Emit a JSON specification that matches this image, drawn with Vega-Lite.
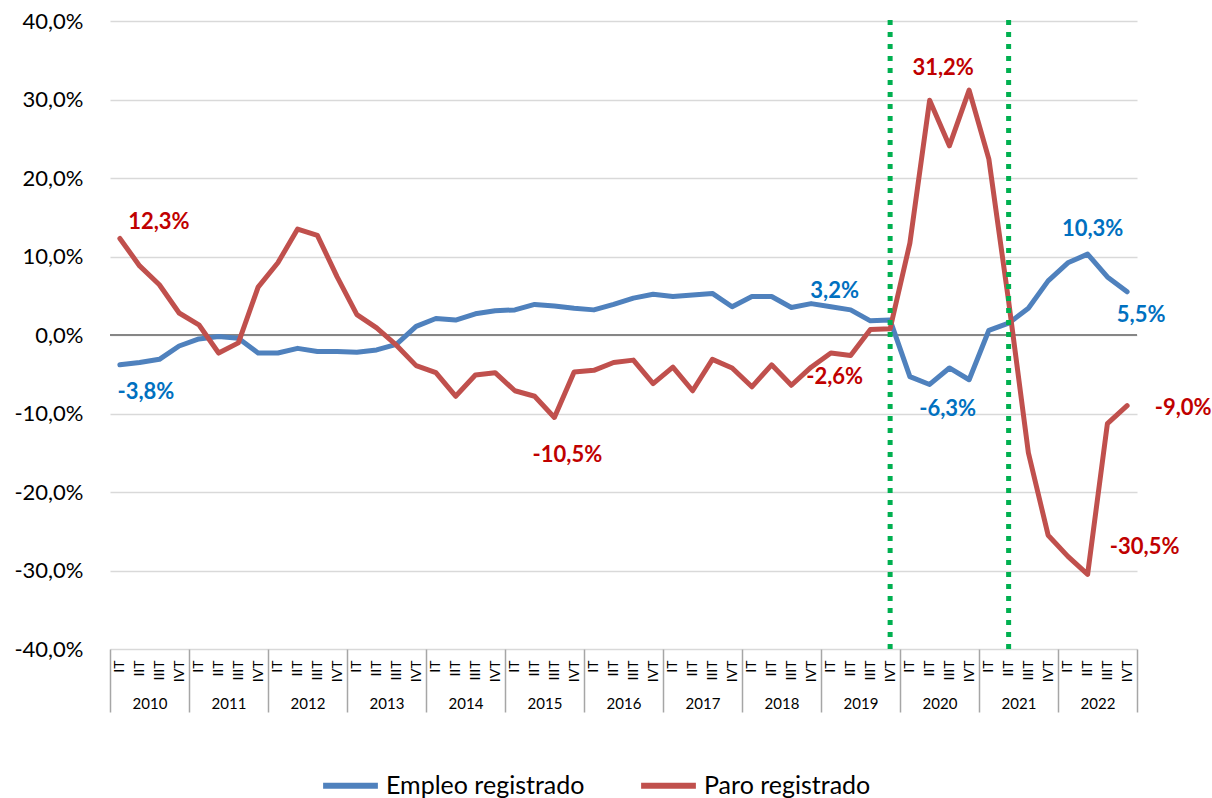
{
  "$schema": "https://vega.github.io/schema/vega-lite/v6.json",
  "width": 1027,
  "height": 628,
  "autosize": {"type": "none"},
  "padding": {"left": 110, "top": 21, "right": 75, "bottom": 149},
  "background": "white",
  "config": {
    "view": {"stroke": null},
    "font": "Lato",
    "axis": {"labelFont": "Lato", "labelColor": "#000000", "titleFont": "Lato"},
    "legend": {"labelFont": "Lato"}
  },
  "datasets": {
    "series": [
      {"periodo": "2010-1", "serie": "Empleo registrado", "valor": -3.8},
      {"periodo": "2010-2", "serie": "Empleo registrado", "valor": -3.5},
      {"periodo": "2010-3", "serie": "Empleo registrado", "valor": -3.1},
      {"periodo": "2010-4", "serie": "Empleo registrado", "valor": -1.4},
      {"periodo": "2011-1", "serie": "Empleo registrado", "valor": -0.5},
      {"periodo": "2011-2", "serie": "Empleo registrado", "valor": -0.2},
      {"periodo": "2011-3", "serie": "Empleo registrado", "valor": -0.4},
      {"periodo": "2011-4", "serie": "Empleo registrado", "valor": -2.3},
      {"periodo": "2012-1", "serie": "Empleo registrado", "valor": -2.3},
      {"periodo": "2012-2", "serie": "Empleo registrado", "valor": -1.7},
      {"periodo": "2012-3", "serie": "Empleo registrado", "valor": -2.1},
      {"periodo": "2012-4", "serie": "Empleo registrado", "valor": -2.1},
      {"periodo": "2013-1", "serie": "Empleo registrado", "valor": -2.2},
      {"periodo": "2013-2", "serie": "Empleo registrado", "valor": -1.9},
      {"periodo": "2013-3", "serie": "Empleo registrado", "valor": -1.2},
      {"periodo": "2013-4", "serie": "Empleo registrado", "valor": 1.1},
      {"periodo": "2014-1", "serie": "Empleo registrado", "valor": 2.1},
      {"periodo": "2014-2", "serie": "Empleo registrado", "valor": 1.9},
      {"periodo": "2014-3", "serie": "Empleo registrado", "valor": 2.7},
      {"periodo": "2014-4", "serie": "Empleo registrado", "valor": 3.1},
      {"periodo": "2015-1", "serie": "Empleo registrado", "valor": 3.2},
      {"periodo": "2015-2", "serie": "Empleo registrado", "valor": 3.9},
      {"periodo": "2015-3", "serie": "Empleo registrado", "valor": 3.7},
      {"periodo": "2015-4", "serie": "Empleo registrado", "valor": 3.4},
      {"periodo": "2016-1", "serie": "Empleo registrado", "valor": 3.2},
      {"periodo": "2016-2", "serie": "Empleo registrado", "valor": 3.9},
      {"periodo": "2016-3", "serie": "Empleo registrado", "valor": 4.7},
      {"periodo": "2016-4", "serie": "Empleo registrado", "valor": 5.2},
      {"periodo": "2017-1", "serie": "Empleo registrado", "valor": 4.9},
      {"periodo": "2017-2", "serie": "Empleo registrado", "valor": 5.1},
      {"periodo": "2017-3", "serie": "Empleo registrado", "valor": 5.3},
      {"periodo": "2017-4", "serie": "Empleo registrado", "valor": 3.6},
      {"periodo": "2018-1", "serie": "Empleo registrado", "valor": 4.9},
      {"periodo": "2018-2", "serie": "Empleo registrado", "valor": 4.9},
      {"periodo": "2018-3", "serie": "Empleo registrado", "valor": 3.5},
      {"periodo": "2018-4", "serie": "Empleo registrado", "valor": 4.0},
      {"periodo": "2019-1", "serie": "Empleo registrado", "valor": 3.6},
      {"periodo": "2019-2", "serie": "Empleo registrado", "valor": 3.2},
      {"periodo": "2019-3", "serie": "Empleo registrado", "valor": 1.8},
      {"periodo": "2019-4", "serie": "Empleo registrado", "valor": 1.9},
      {"periodo": "2020-1", "serie": "Empleo registrado", "valor": -5.3},
      {"periodo": "2020-2", "serie": "Empleo registrado", "valor": -6.3},
      {"periodo": "2020-3", "serie": "Empleo registrado", "valor": -4.2},
      {"periodo": "2020-4", "serie": "Empleo registrado", "valor": -5.7},
      {"periodo": "2021-1", "serie": "Empleo registrado", "valor": 0.6},
      {"periodo": "2021-2", "serie": "Empleo registrado", "valor": 1.5},
      {"periodo": "2021-3", "serie": "Empleo registrado", "valor": 3.4},
      {"periodo": "2021-4", "serie": "Empleo registrado", "valor": 6.9},
      {"periodo": "2022-1", "serie": "Empleo registrado", "valor": 9.2},
      {"periodo": "2022-2", "serie": "Empleo registrado", "valor": 10.3},
      {"periodo": "2022-3", "serie": "Empleo registrado", "valor": 7.4},
      {"periodo": "2022-4", "serie": "Empleo registrado", "valor": 5.5},
      {"periodo": "2010-1", "serie": "Paro registrado", "valor": 12.3},
      {"periodo": "2010-2", "serie": "Paro registrado", "valor": 8.8},
      {"periodo": "2010-3", "serie": "Paro registrado", "valor": 6.4},
      {"periodo": "2010-4", "serie": "Paro registrado", "valor": 2.8},
      {"periodo": "2011-1", "serie": "Paro registrado", "valor": 1.3},
      {"periodo": "2011-2", "serie": "Paro registrado", "valor": -2.3},
      {"periodo": "2011-3", "serie": "Paro registrado", "valor": -1.0},
      {"periodo": "2011-4", "serie": "Paro registrado", "valor": 6.1},
      {"periodo": "2012-1", "serie": "Paro registrado", "valor": 9.2},
      {"periodo": "2012-2", "serie": "Paro registrado", "valor": 13.5},
      {"periodo": "2012-3", "serie": "Paro registrado", "valor": 12.7},
      {"periodo": "2012-4", "serie": "Paro registrado", "valor": 7.4},
      {"periodo": "2013-1", "serie": "Paro registrado", "valor": 2.6},
      {"periodo": "2013-2", "serie": "Paro registrado", "valor": 0.9},
      {"periodo": "2013-3", "serie": "Paro registrado", "valor": -1.3},
      {"periodo": "2013-4", "serie": "Paro registrado", "valor": -3.9},
      {"periodo": "2014-1", "serie": "Paro registrado", "valor": -4.8},
      {"periodo": "2014-2", "serie": "Paro registrado", "valor": -7.8},
      {"periodo": "2014-3", "serie": "Paro registrado", "valor": -5.1},
      {"periodo": "2014-4", "serie": "Paro registrado", "valor": -4.8},
      {"periodo": "2015-1", "serie": "Paro registrado", "valor": -7.1},
      {"periodo": "2015-2", "serie": "Paro registrado", "valor": -7.8},
      {"periodo": "2015-3", "serie": "Paro registrado", "valor": -10.5},
      {"periodo": "2015-4", "serie": "Paro registrado", "valor": -4.7},
      {"periodo": "2016-1", "serie": "Paro registrado", "valor": -4.5},
      {"periodo": "2016-2", "serie": "Paro registrado", "valor": -3.5},
      {"periodo": "2016-3", "serie": "Paro registrado", "valor": -3.2},
      {"periodo": "2016-4", "serie": "Paro registrado", "valor": -6.2},
      {"periodo": "2017-1", "serie": "Paro registrado", "valor": -4.1},
      {"periodo": "2017-2", "serie": "Paro registrado", "valor": -7.1},
      {"periodo": "2017-3", "serie": "Paro registrado", "valor": -3.1},
      {"periodo": "2017-4", "serie": "Paro registrado", "valor": -4.2},
      {"periodo": "2018-1", "serie": "Paro registrado", "valor": -6.6},
      {"periodo": "2018-2", "serie": "Paro registrado", "valor": -3.8},
      {"periodo": "2018-3", "serie": "Paro registrado", "valor": -6.4},
      {"periodo": "2018-4", "serie": "Paro registrado", "valor": -4.1},
      {"periodo": "2019-1", "serie": "Paro registrado", "valor": -2.3},
      {"periodo": "2019-2", "serie": "Paro registrado", "valor": -2.6},
      {"periodo": "2019-3", "serie": "Paro registrado", "valor": 0.7},
      {"periodo": "2019-4", "serie": "Paro registrado", "valor": 0.8},
      {"periodo": "2020-1", "serie": "Paro registrado", "valor": 11.7},
      {"periodo": "2020-2", "serie": "Paro registrado", "valor": 29.9},
      {"periodo": "2020-3", "serie": "Paro registrado", "valor": 24.1},
      {"periodo": "2020-4", "serie": "Paro registrado", "valor": 31.2},
      {"periodo": "2021-1", "serie": "Paro registrado", "valor": 22.4},
      {"periodo": "2021-2", "serie": "Paro registrado", "valor": 4.3},
      {"periodo": "2021-3", "serie": "Paro registrado", "valor": -15.0},
      {"periodo": "2021-4", "serie": "Paro registrado", "valor": -25.5},
      {"periodo": "2022-1", "serie": "Paro registrado", "valor": -28.2},
      {"periodo": "2022-2", "serie": "Paro registrado", "valor": -30.5},
      {"periodo": "2022-3", "serie": "Paro registrado", "valor": -11.3},
      {"periodo": "2022-4", "serie": "Paro registrado", "valor": -9.0}
    ],
    "etiquetas": [
      {"periodo": "2010-1", "serie": "Paro registrado", "valor": 12.3, "texto": "12,3%"},
      {"periodo": "2010-1", "serie": "Empleo registrado", "valor": -3.8, "texto": "-3,8%"},
      {"periodo": "2015-3", "serie": "Paro registrado", "valor": -10.5, "texto": "-10,5%"},
      {"periodo": "2019-2", "serie": "Paro registrado", "valor": -2.6, "texto": "-2,6%"},
      {"periodo": "2019-2", "serie": "Empleo registrado", "valor": 3.2, "texto": "3,2%"},
      {"periodo": "2020-4", "serie": "Paro registrado", "valor": 31.2, "texto": "31,2%"},
      {"periodo": "2020-2", "serie": "Empleo registrado", "valor": -6.3, "texto": "-6,3%"},
      {"periodo": "2022-2", "serie": "Empleo registrado", "valor": 10.3, "texto": "10,3%"},
      {"periodo": "2022-4", "serie": "Empleo registrado", "valor": 5.5, "texto": "5,5%"},
      {"periodo": "2022-4", "serie": "Paro registrado", "valor": -9.0, "texto": "-9,0%"},
      {"periodo": "2022-2", "serie": "Paro registrado", "valor": -30.5, "texto": "-30,5%"}
    ],
    "anios": [
      {"anio": "2010"}, {"anio": "2011"}, {"anio": "2012"}, {"anio": "2013"}, {"anio": "2014"},
      {"anio": "2015"}, {"anio": "2016"}, {"anio": "2017"}, {"anio": "2018"}, {"anio": "2019"},
      {"anio": "2020"}, {"anio": "2021"}, {"anio": "2022"}
    ],
    "marcas": [
      {"periodo": "2019-4"},
      {"periodo": "2021-2"}
    ]
  },
  "encoding": {
    "y": {
      "type": "quantitative",
      "scale": {"domain": [-40, 40], "nice": false, "zero": false},
      "axis": {
        "title": null,
        "values": [-40, -30, -20, -10, 0, 10, 20, 30, 40],
        "labelExpr": "(datum.value < 0 ? '-' : '') + replace(format(abs(datum.value), '.1f'), '.', ',') + '%'",
        "grid": true,
        "gridColor": "#d9d9d9",
        "gridWidth": 1.5,
        "domain": false,
        "ticks": false,
        "tickSize": 0,
        "labelPadding": 27,
        "labelFontSize": 22
      }
    }
  },
  "layer": [
    {
      "data": {"name": "anios"},
      "mark": {"type": "point", "opacity": 0},
      "encoding": {
        "x": {
          "field": "anio",
          "type": "ordinal",
          "scale": {"type": "band", "paddingInner": 0, "paddingOuter": 0},
          "axis": {
            "orient": "bottom",
            "title": null,
            "domain": false,
            "grid": false,
            "ticks": true,
            "tickBand": "extent",
            "tickSize": 63,
            "tickColor": "#a6a6a6",
            "tickWidth": 1.5,
            "labelAngle": 0,
            "labelBaseline": "middle",
            "labelPadding": -9,
            "labelFontSize": 15
          }
        },
        "y": {"datum": 0}
      }
    },
    {
      "data": {"name": "series"},
      "layer": [
        {
          "mark": {"type": "rule", "color": "#868686", "strokeWidth": 1.5},
          "encoding": {"y": {"datum": 0}}
        },
        {
          "mark": {"type": "line", "strokeWidth": 5, "strokeJoin": "round", "strokeCap": "round"},
          "encoding": {
            "x": {
              "field": "periodo",
              "type": "ordinal",
              "scale": {"type": "point", "padding": 0.5},
              "axis": {
                "orient": "bottom",
                "title": null,
                "domain": false,
                "grid": false,
                "ticks": false,
                "tickSize": 0,
                "labelAngle": 270,
                "labelAlign": "right",
                "labelBaseline": "middle",
                "labelPadding": 11,
                "labelFontSize": 14,
                "labelOverlap": false,
                "labelExpr": "['IT','IIT','IIIT','IVT'][toNumber(substring(datum.value, 5, 6)) - 1]"
              }
            },
            "y": {"field": "valor", "type": "quantitative"},
            "color": {
              "field": "serie",
              "type": "nominal",
              "scale": {"domain": ["Empleo registrado", "Paro registrado"], "range": ["#4f81bd", "#c0504d"]},
              "legend": {
                "title": null,
                "orient": "none",
                "direction": "horizontal",
                "legendX": 210,
                "legendY": 734,
                "symbolType": "stroke",
                "symbolSize": 3000,
                "symbolStrokeWidth": 6,
                "labelFontSize": 25,
                "labelColor": "#000000",
                "labelOffset": 5,
                "labelLimit": 400,
                "columnPadding": 44
              }
            },
            "order": {"field": "serie"}
          }
        },
        {
          "data": {"name": "marcas"},
          "mark": {"type": "rule", "color": "#00b050", "strokeWidth": 5, "strokeDash": [5, 7]},
          "encoding": {
            "x": {"field": "periodo", "type": "ordinal"},
            "y": {"datum": -40},
            "y2": {"datum": 40.8}
          }
        },
        {
          "data": {"name": "etiquetas"},
          "transform": [{"filter": "datum.texto === '12,3%'"}],
          "mark": {"type": "text", "dx": 39, "dy": -16, "fontSize": 22, "fontWeight": "bold", "color": "#c00000"},
          "encoding": {"x": {"field": "periodo", "type": "ordinal"}, "y": {"field": "valor", "type": "quantitative"}, "text": {"field": "texto"}}
        },
        {
          "data": {"name": "etiquetas"},
          "transform": [{"filter": "datum.texto === '-3,8%'"}],
          "mark": {"type": "text", "dx": 26, "dy": 27, "fontSize": 22, "fontWeight": "bold", "color": "#0070c0"},
          "encoding": {"x": {"field": "periodo", "type": "ordinal"}, "y": {"field": "valor", "type": "quantitative"}, "text": {"field": "texto"}}
        },
        {
          "data": {"name": "etiquetas"},
          "transform": [{"filter": "datum.texto === '-10,5%'"}],
          "mark": {"type": "text", "dx": 13, "dy": 38, "fontSize": 22, "fontWeight": "bold", "color": "#c00000"},
          "encoding": {"x": {"field": "periodo", "type": "ordinal"}, "y": {"field": "valor", "type": "quantitative"}, "text": {"field": "texto"}}
        },
        {
          "data": {"name": "etiquetas"},
          "transform": [{"filter": "datum.texto === '-2,6%'"}],
          "mark": {"type": "text", "dx": -16, "dy": 22, "fontSize": 22, "fontWeight": "bold", "color": "#c00000"},
          "encoding": {"x": {"field": "periodo", "type": "ordinal"}, "y": {"field": "valor", "type": "quantitative"}, "text": {"field": "texto"}}
        },
        {
          "data": {"name": "etiquetas"},
          "transform": [{"filter": "datum.texto === '3,2%'"}],
          "mark": {"type": "text", "dx": -16, "dy": -19, "fontSize": 22, "fontWeight": "bold", "color": "#0070c0"},
          "encoding": {"x": {"field": "periodo", "type": "ordinal"}, "y": {"field": "valor", "type": "quantitative"}, "text": {"field": "texto"}}
        },
        {
          "data": {"name": "etiquetas"},
          "transform": [{"filter": "datum.texto === '31,2%'"}],
          "mark": {"type": "text", "dx": -26, "dy": -22, "fontSize": 22, "fontWeight": "bold", "color": "#c00000"},
          "encoding": {"x": {"field": "periodo", "type": "ordinal"}, "y": {"field": "valor", "type": "quantitative"}, "text": {"field": "texto"}}
        },
        {
          "data": {"name": "etiquetas"},
          "transform": [{"filter": "datum.texto === '-6,3%'"}],
          "mark": {"type": "text", "dx": 18, "dy": 25, "fontSize": 22, "fontWeight": "bold", "color": "#0070c0"},
          "encoding": {"x": {"field": "periodo", "type": "ordinal"}, "y": {"field": "valor", "type": "quantitative"}, "text": {"field": "texto"}}
        },
        {
          "data": {"name": "etiquetas"},
          "transform": [{"filter": "datum.texto === '10,3%'"}],
          "mark": {"type": "text", "dx": 5, "dy": -25, "fontSize": 22, "fontWeight": "bold", "color": "#0070c0"},
          "encoding": {"x": {"field": "periodo", "type": "ordinal"}, "y": {"field": "valor", "type": "quantitative"}, "text": {"field": "texto"}}
        },
        {
          "data": {"name": "etiquetas"},
          "transform": [{"filter": "datum.texto === '5,5%'"}],
          "mark": {"type": "text", "dx": 14, "dy": 23, "fontSize": 22, "fontWeight": "bold", "color": "#0070c0"},
          "encoding": {"x": {"field": "periodo", "type": "ordinal"}, "y": {"field": "valor", "type": "quantitative"}, "text": {"field": "texto"}}
        },
        {
          "data": {"name": "etiquetas"},
          "transform": [{"filter": "datum.texto === '-9,0%'"}],
          "mark": {"type": "text", "dx": 56, "dy": 2, "fontSize": 22, "fontWeight": "bold", "color": "#c00000"},
          "encoding": {"x": {"field": "periodo", "type": "ordinal"}, "y": {"field": "valor", "type": "quantitative"}, "text": {"field": "texto"}}
        },
        {
          "data": {"name": "etiquetas"},
          "transform": [{"filter": "datum.texto === '-30,5%'"}],
          "mark": {"type": "text", "dx": 57, "dy": -27, "fontSize": 22, "fontWeight": "bold", "color": "#c00000"},
          "encoding": {"x": {"field": "periodo", "type": "ordinal"}, "y": {"field": "valor", "type": "quantitative"}, "text": {"field": "texto"}}
        }
      ]
    }
  ],
  "resolve": {"scale": {"x": "independent"}, "axis": {"x": "independent"}}
}
